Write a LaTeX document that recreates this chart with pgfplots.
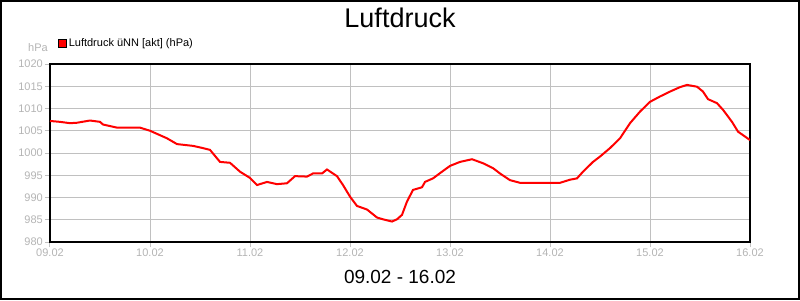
\documentclass[border=0pt]{standalone}
\usepackage{pgfplots}
\pgfplotsset{compat=1.18}
\usepackage{fontspec}
\setmainfont{Liberation Sans}
\definecolor{gridgray}{RGB}{192,192,192}
\definecolor{labgray}{RGB}{180,180,180}
\begin{document}
\begin{tikzpicture}
\draw[line width=2pt] (1pt,1pt) rectangle (799pt,299pt);
\node[anchor=base, font=\fontsize{27}{27}\selectfont] at (400pt,272pt) {Luftdruck};
\node[anchor=base, font=\fontsize{19}{19}\selectfont] at (400pt,17pt) {09.02 - 16.02};
\node[anchor=base east, inner sep=0pt, text=labgray, font=\fontsize{11}{11}\selectfont] at (48pt,248pt) {hPa};
\begin{axis}[
  at={(50pt,58pt)}, anchor=south west,
  width=700pt, height=178pt, scale only axis,
  xmin=0, xmax=7, ymin=980, ymax=1020,
  xtick={0,1,2,3,4,5,6,7},
  xticklabels={09.02,10.02,11.02,12.02,13.02,14.02,15.02,16.02},
  ytick={980,985,990,995,1000,1005,1010,1015,1020},
  yticklabels={980,985,990,995,1000,1005,1010,1015,1020},
  tick pos=left, tick align=outside, major tick length=5pt,
  tick style={gridgray, line width=1pt},
  grid=major, major grid style={gridgray, line width=1pt},
  axis line style={black, line width=1.3pt},
  ticklabel style={text=labgray, font=\fontsize{11}{11}\selectfont, inner sep=0pt},
  xticklabel style={yshift=-1.5pt},
  yticklabel style={xshift=-2pt},
  legend style={at={(0.0114,1.118)}, anchor=west, draw=none, fill=none, inner sep=0pt, font=\fontsize{11}{11}\selectfont},
  legend image code/.code={\draw[fill=red,draw=black,line width=0.6pt] (0pt,-4pt) rectangle (8pt,4pt);},
]
\addplot[red, line width=2pt] coordinates {
(0.00,1007.2) (0.10,1007.0) (0.20,1006.7) (0.27,1006.8) (0.40,1007.3) (0.50,1007.0)
(0.53,1006.4) (0.67,1005.7) (0.90,1005.7) (1.00,1005.0) (1.17,1003.3) (1.27,1002.0)
(1.43,1001.6) (1.53,1001.1) (1.60,1000.7) (1.70,998.0) (1.80,997.8) (1.90,995.8)
(2.00,994.4) (2.07,992.8) (2.17,993.5) (2.27,993.0) (2.37,993.2) (2.45,994.8)
(2.57,994.7) (2.63,995.4) (2.72,995.4) (2.77,996.3) (2.87,994.8) (2.93,992.8)
(3.00,990.2) (3.07,988.1) (3.17,987.3) (3.22,986.4) (3.27,985.5) (3.33,985.1)
(3.42,984.6) (3.47,985.1) (3.52,986.1) (3.57,989.1) (3.63,991.7) (3.72,992.3)
(3.75,993.5) (3.83,994.3) (3.92,995.8) (4.00,997.1) (4.10,998.0) (4.22,998.6)
(4.33,997.7) (4.43,996.6) (4.50,995.4) (4.60,993.9) (4.70,993.3) (5.00,993.3)
(5.10,993.3) (5.20,994.0) (5.27,994.3) (5.33,995.8) (5.43,998.0) (5.50,999.2)
(5.60,1001.1) (5.70,1003.3) (5.80,1006.7) (5.90,1009.3) (6.00,1011.5) (6.10,1012.7)
(6.20,1013.8) (6.30,1014.8) (6.37,1015.3) (6.47,1014.9) (6.53,1013.8) (6.58,1012.1)
(6.67,1011.2) (6.73,1009.7) (6.82,1007.0) (6.88,1004.8) (6.95,1003.7) (7.00,1002.9)
};
\addlegendentry{Luftdruck üNN [akt] (hPa)}
\end{axis}
\end{tikzpicture}
\end{document}
